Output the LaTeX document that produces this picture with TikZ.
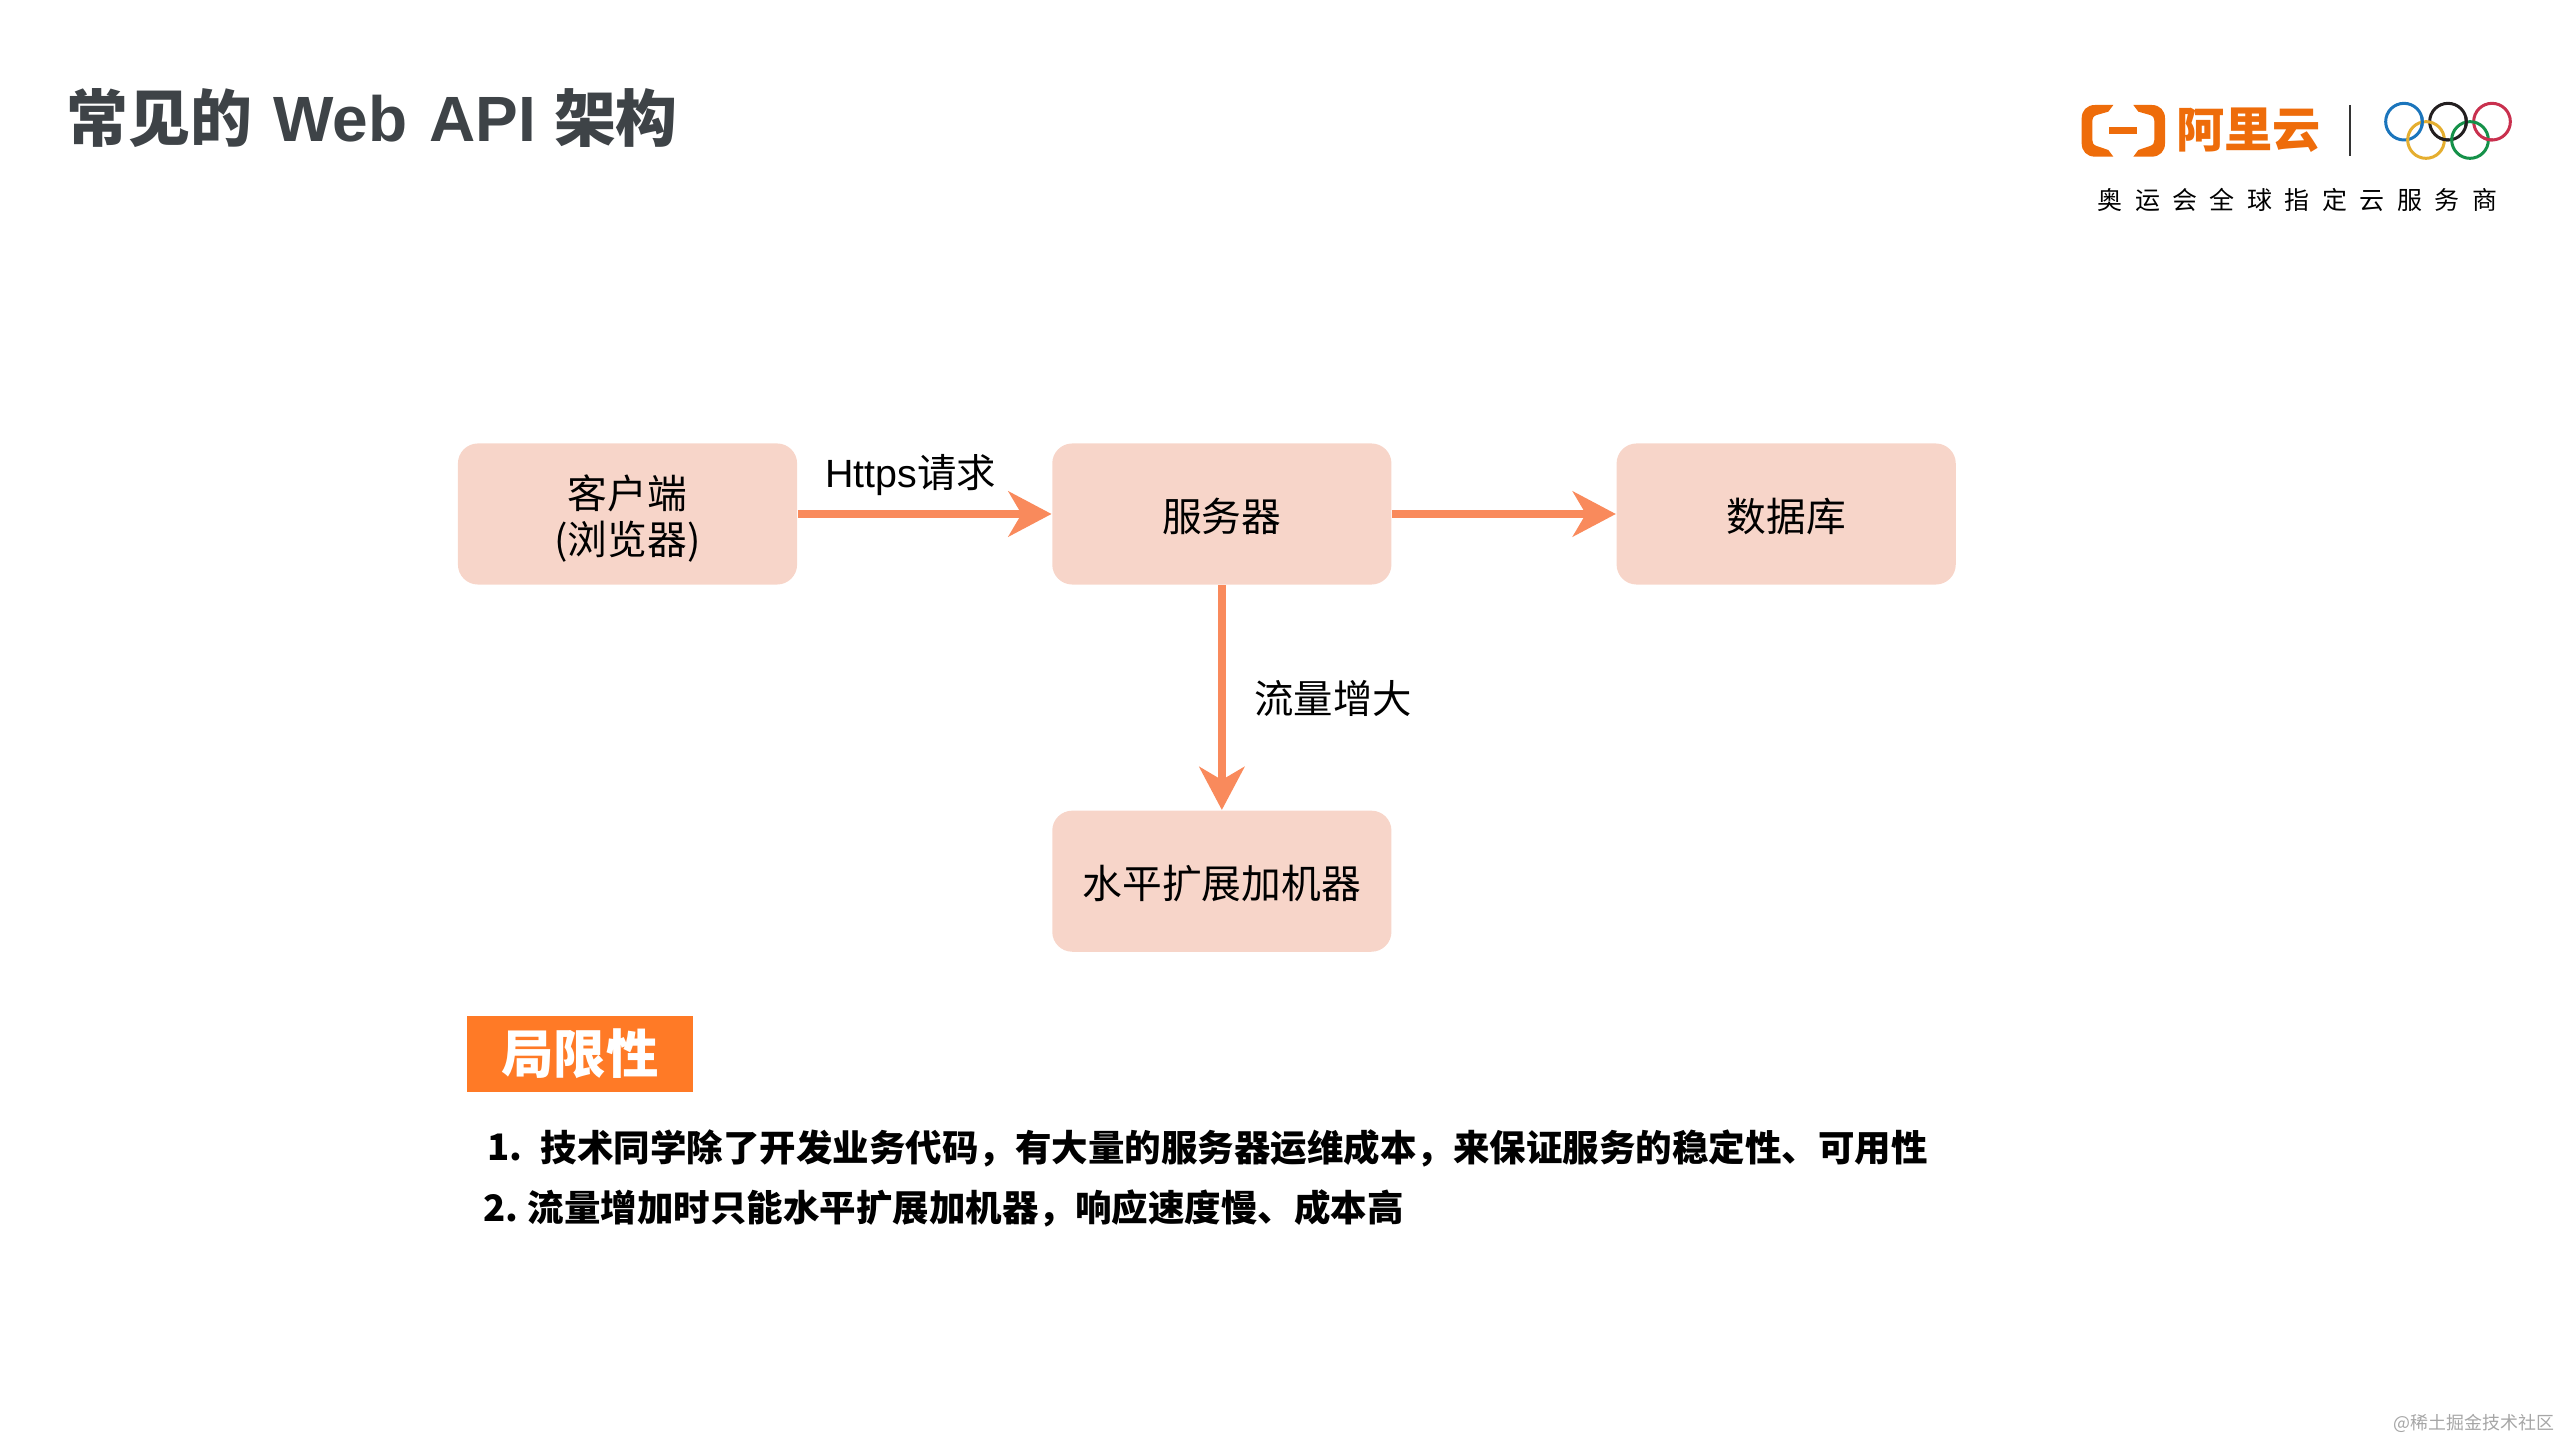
\documentclass[tikz,border=0pt]{standalone}
\usepackage{fontspec}
\setmainfont{Noto Sans CJK SC}
\newfontfamily\latinfont{Liberation Sans}
\newfontfamily\spacedfont[LetterSpace=50]{Noto Sans CJK SC}
\usetikzlibrary{arrows.meta}
\definecolor{boxfill}{HTML}{F7D5C9}
\definecolor{arrowline}{HTML}{F98A5C}
\definecolor{badgefill}{HTML}{FF7A26}
\definecolor{logoorange}{HTML}{EE6C0A}
\definecolor{titlegray}{HTML}{3E4347}
\definecolor{ringblue}{HTML}{1B75BC}
\definecolor{ringyellow}{HTML}{E5AE2F}
\definecolor{ringblack}{HTML}{231F20}
\definecolor{ringgreen}{HTML}{159149}
\definecolor{ringred}{HTML}{C9304E}
\tikzstyle{b} = [rectangle, fill=boxfill, text centered, rounded corners=0.2cm, minimum width=3.39cm, minimum height=1.41cm, inner sep=0pt, font=\fontsize{11.3}{12.9}\selectfont, align=center]
\tikzstyle{l} = [draw=arrowline, line width=0.08cm, -{Stealth[length=0.43cm, width=0.45cm, inset=0.13cm]}]
\tikzstyle{t} = [inner sep=0pt, font=\fontsize{11.2}{13.5}\selectfont]
\tikzstyle{item} = [inner sep=0pt, anchor=west, font=\bfseries\fontsize{10.38}{13}\selectfont]
\tikzstyle{ring} = [line width=0.03cm]

\begin{document}
\begin{tikzpicture}[x=0.01cm, y=-0.01cm, node distance = 5.94cm, auto]
    \useasboundingbox (0,0) rectangle (2560,1440);
    % Place nodes
    \node [inner sep=0pt, anchor=west, text=titlegray, font=\bfseries\fontsize{17.6}{20}\selectfont] (title) at (66,118) {常见的\hspace{6pt}{\latinfont\bfseries\fontsize{18.2}{20}\selectfont Web\hspace{1.3pt} API}\hspace{5pt}架构};
    \node [b] (client) at (627.5,514) {\rule{0pt}{12.2pt}客户端 \\ (浏览器)};
    \node [b, right of=client] (server) {\rule{0pt}{11pt}服务器};
    \node [b, right of=server, node distance=5.64cm] (db) {\rule{0pt}{11pt}数据库};
    \node [b, below of=server, node distance=3.67cm] (scale) {\rule{0pt}{11pt}水平扩展加机器};
    \node [t] (https) at (910.5,475.5) {{\latinfont Https}请求};
    \node [t] (traffic) at (1333,698.5) {流量增大};
    \node [rectangle, fill=badgefill, text=white, inner sep=0pt, minimum width=2.26cm, minimum height=0.75cm, font=\bfseries\fontsize{14.9}{16}\selectfont] (limits) at (580,1054) {局限性};
    \node [item] (one) at (487,1148) {1.};
    \node [item] (onetext) at (540,1148) {技术同学除了开发业务代码，有大量的服务器运维成本，来保证服务的稳定性、可用性};
    \node [item] (two) at (483,1208) {2.};
    \node [item] (twotext) at (527,1208) {流量增加时只能水平扩展加机器，响应速度慢、成本高};
    \node [inner sep=0pt, anchor=east, text=black!35, font=\fontsize{5.1}{6}\selectfont] (mark) at (2555,1423) {@稀土掘金技术社区};

    % Draw edges
    \path [l] (client) -- (server);
    \path [l] (server) -- (db);
    \path [l] (server) -- (scale);

    % Logo
    \begin{scope}[shift={(2040,80)}, x=0.01cm/3, y=-0.01cm/3]
        \foreach \sx/\dx in {1/0, -1/500} {
            \fill [logoorange, shift={(\dx,0)}, xscale=\sx] (220,75) -- (165,75) .. controls (140,75) and (125,92) .. (125,115) -- (125,190) .. controls (125,213) and (140,230) .. (165,230) -- (220,230) -- (205,210) -- (170,198) .. controls (160,195) and (157,188) .. (157,180) -- (157,125) .. controls (157,115) and (160,108) .. (170,105) -- (205,95) -- cycle;
        }
        \fill [logoorange] (208,140) rectangle (292,162);
        \node [inner sep=0pt, text=logoorange, font=\bfseries\fontsize{13.7}{15}\selectfont] (aliyun) at (625,152) {阿里云};
        \draw [black!80, line width=0.012cm] (930,75) -- (930,228);
        % Rings, with the crossings laid over again
        \draw [ring, draw=ringblue] (1092,125) circle (55);
        \draw [ring, draw=ringblack] (1224,125) circle (55);
        \draw [ring, draw=ringred] (1356,125) circle (55);
        \draw [ring, draw=ringyellow] (1158,180) circle (55);
        \draw [ring, draw=ringgreen] (1290,180) circle (55);
        \draw [ring, draw=ringblue] (1092,125) ++(-15:55) arc (-15:17:55);
        \draw [ring, draw=ringblack] (1224,125) ++(-15:55) arc (-15:17:55);
        \draw [ring, draw=ringblack] (1224,125) ++(87:55) arc (87:116:55);
        \draw [ring, draw=ringred] (1356,125) ++(87:55) arc (87:116:55);
        \node [inner sep=0pt] (sponsor) at (772,360) {\spacedfont\fontsize{7.1}{9}\selectfont 奥运会全球指定云服务商};
    \end{scope}
\end{tikzpicture}
\end{document}
